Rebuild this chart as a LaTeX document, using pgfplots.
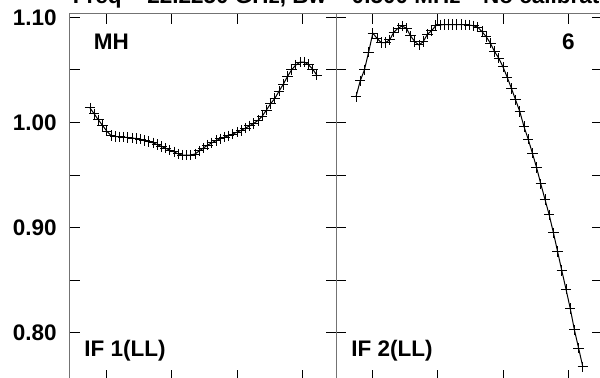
\documentclass[border=0pt]{standalone}
\usepackage{fontspec}
\setmainfont{Liberation Sans}
\usepackage{pgfplots}
\pgfplotsset{compat=1.18}
\newcommand{\lbl}{\fontsize{11.25}{13}\selectfont\bfseries}
\pgfplotsset{
  panel/.style={
    scale only axis, width=133pt, height=183pt,
    xmin=-3.762, xmax=59.571, ymin=0.755, ymax=1.1032,
    xtick={4.81,20.48,36.1,51.71}, xticklabel=\empty,
    ytick={0.8,0.9,1.0,1.1}, minor ytick={0.85,0.95,1.05},
    tick align=inside, major tick length=5pt, minor tick length=5pt,
    xtick pos=both, ytick pos=both,
    axis line style={black!55, line width=0.5pt},
    tick style={black, line width=0.5pt},
    anchor=south west,
  },
  series/.style={black, line width=0.5pt, mark=+, mark size=2.6pt, mark options={line width=0.5pt}},
}
\begin{document}
\begin{tikzpicture}
\path[use as bounding box] (0pt,0pt) rectangle (300pt,189pt);
\clip (0pt,0pt) rectangle (300pt,189pt);
\begin{axis}[panel, at={(35pt,-1pt)},
  yticklabel style={font=\lbl, anchor=east, inner sep=0pt, xshift=-6.5pt},
  /pgf/number format/.cd, fixed, fixed zerofill, precision=2, assume math mode=true]
\addplot[series] coordinates {
(1,1.0138) (2,1.0082) (3,1.0024) (4,0.9971) (5,0.9918) (6,0.9876) (7,0.9867) (8,0.9864) (9,0.9860) (10,0.9856)
(11,0.9852) (12,0.9847) (13,0.9840) (14,0.9830) (15,0.9818) (16,0.9806) (17,0.9790) (18,0.9772) (19,0.9755) (20,0.9737)
(21,0.9720) (22,0.9701) (23,0.9690) (24,0.9688) (25,0.9690) (26,0.9700) (27,0.9729) (28,0.9757) (29,0.9784) (30,0.9806)
(31,0.9828) (32,0.9844) (33,0.9860) (34,0.9874) (35,0.9890) (36,0.9908) (37,0.9925) (38,0.9946) (39,0.9968) (40,0.9991)
(41,1.0020) (42,1.0060) (43,1.0118) (44,1.0178) (45,1.0229) (46,1.0297) (47,1.0362) (48,1.0436) (49,1.0500) (50,1.0547)
(51,1.0573) (52,1.0575) (53,1.0550) (54,1.0508) (55,1.0450)
};
\end{axis}
\begin{axis}[panel, at={(168pt,-1pt)}, yticklabel=\empty]
\addplot[series] coordinates {
(1,1.0245) (2,1.0395) (3,1.0500) (4,1.0668) (5,1.0849) (6,1.0801) (7,1.0759) (8,1.0759) (9,1.0785) (10,1.0858)
(11,1.0896) (12,1.0918) (13,1.0896) (14,1.0823) (15,1.0769) (16,1.0737) (17,1.0769) (18,1.0839) (19,1.0873) (20,1.0921)
(21,1.0928) (22,1.0931) (23,1.0932) (24,1.0932) (25,1.0932) (26,1.0931) (27,1.0930) (28,1.0926) (29,1.0920) (30,1.0906)
(31,1.0864) (32,1.0816) (33,1.0754) (34,1.0674) (35,1.0611) (36,1.0528) (37,1.0430) (38,1.0325) (39,1.0214) (40,1.0103)
(41,0.9960) (42,0.9840) (43,0.9707) (44,0.9570) (45,0.9415) (46,0.9267) (47,0.9120) (48,0.8951) (49,0.8771) (50,0.8590)
(51,0.8413) (52,0.8232) (53,0.8026) (54,0.7852) (55,0.7676)
};
\end{axis}
\node[anchor=base west, inner sep=0pt, font=\lbl] at (36.25pt,187.4pt) {Freq = 22.2250 GHz, Bw = 0.500 MHz\quad No calibration applied};
\node[anchor=base west, inner sep=0pt, font=\lbl] at (46.75pt,164.25pt) {MH};
\node[anchor=base east, inner sep=0pt, font=\lbl] at (287.5pt,164.25pt) {6};
\node[anchor=base west, inner sep=0pt, font=\lbl] at (42pt,10.5pt) {IF 1(LL)};
\node[anchor=base west, inner sep=0pt, font=\lbl] at (175.5pt,10.5pt) {IF 2(LL)};
\end{tikzpicture}
\end{document}
